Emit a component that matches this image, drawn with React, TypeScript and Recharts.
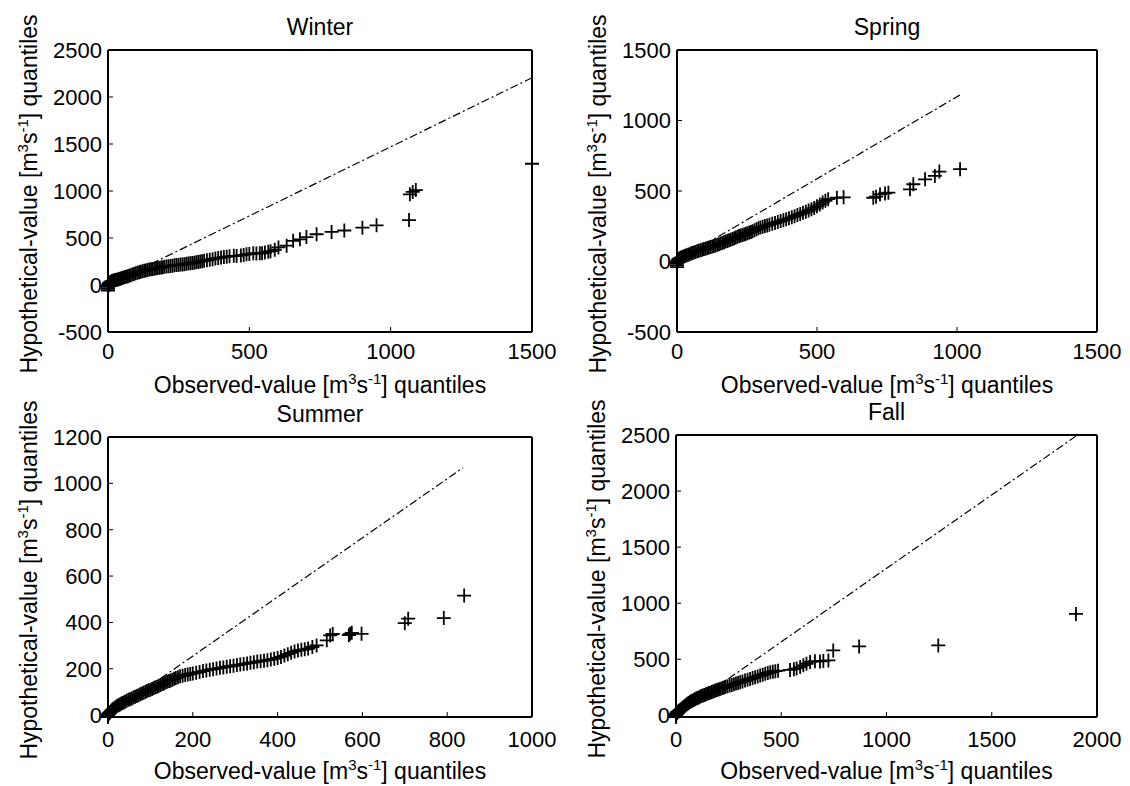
import React from 'react';
import { ScatterChart, Scatter, XAxis, YAxis, ReferenceLine } from 'recharts';

const FONT = '"Liberation Sans", Arial, Helvetica, sans-serif';

// Winter quantile pairs [observed, hypothetical]
const winterPoints = [
  [0, -60], [0, -40], [0, -20], [1, -8], [2, 0], [3, 8], [4, 14], [5, 19], [7, 26], [9, 31],
  [11, 35], [13, 39], [15, 42], [18, 46], [21, 49], [24, 51], [27, 53], [30, 55], [34, 58], [38, 62],
  [42, 66], [46, 70], [50, 74], [55, 79], [60, 84], [65, 89], [70, 94], [75, 99], [80, 104], [86, 111],
  [92, 118], [98, 125], [104, 131], [110, 136], [116, 141], [122, 146], [128, 151], [134, 155], [140, 160], [146, 164],
  [152, 168], [158, 171], [164, 174], [170, 177], [176, 180], [182, 183], [188, 187], [194, 190], [200, 194], [207, 198],
  [214, 200], [221, 203], [228, 206], [235, 209], [242, 212], [249, 214], [256, 217], [263, 219], [270, 222], [277, 225],
  [284, 228], [291, 231], [298, 235], [305, 238], [312, 242], [319, 245], [326, 249], [333, 253], [340, 257], [350, 263],
  [360, 269], [370, 275], [380, 282], [390, 287], [400, 292], [410, 297], [420, 301], [430, 305],
  [445, 310], [455, 309], [470, 315], [480, 320], [490, 326], [500, 330], [514, 337], [525, 335], [537, 337], [545, 338],
  [555, 345], [567, 355], [575, 360], [590, 375], [603, 400], [632, 418], [655, 470], [679, 486], [702, 510], [738, 540],
  [791, 565], [836, 580], [900, 610], [950, 635], [1065, 691], [1068, 965], [1078, 990], [1089, 1010], [1500, 1290],
];
const winterTicksX = [0, 500, 1000, 1500];
const winterTicksY = [-500, 0, 500, 1000, 1500, 2000, 2500];
const winterLine = [{ x: 0, y: 0 }, { x: 1500, y: 2205 }];

// Spring
const springPoints = [
  [0, -40], [0, -25], [0, -12], [1, -4], [2, 3], [3, 8], [5, 13], [7, 17], [9, 21], [12, 25],
  [15, 28], [18, 31], [22, 34], [26, 37], [30, 40], [35, 44], [40, 48], [45, 52], [50, 56], [55, 60],
  [60, 64], [66, 68], [72, 72], [78, 76], [84, 80], [90, 84], [96, 88], [102, 91], [108, 95], [114, 99],
  [120, 102], [126, 106], [132, 110], [138, 114], [144, 118], [150, 123], [156, 128], [162, 132], [168, 137], [174, 141],
  [180, 146], [186, 150], [192, 155], [198, 160], [204, 165], [210, 170], [216, 175], [222, 180], [228, 184], [234, 188],
  [240, 192], [246, 196], [252, 201], [258, 205], [264, 210], [270, 215], [277, 222], [284, 228], [291, 235], [298, 241],
  [306, 246], [314, 251], [322, 256], [330, 261], [340, 267], [350, 273], [360, 280], [370, 287], [380, 293], [390, 299],
  [400, 306], [410, 313], [420, 321], [430, 329], [440, 337], [450, 345], [460, 353], [470, 361], [480, 370], [490, 380],
  [500, 392], [510, 405], [520, 418], [530, 430], [540, 442],
  [571, 452], [595, 455], [701, 452], [711, 460], [725, 476], [743, 483], [755, 488], [832, 512], [844, 548], [886, 583],
  [921, 607], [937, 638], [1011, 655],
];
const springTicksX = [0, 500, 1000, 1500];
const springTicksY = [-500, 0, 500, 1000, 1500];
const springLine = [{ x: 0, y: 5 }, { x: 1010, y: 1180 }];

// Summer
const summerPoints = [
  [0, -8], [0, 0], [1, 4], [2, 7], [3, 10], [5, 13], [7, 17], [9, 21], [11, 25], [13, 28],
  [16, 32], [19, 36], [22, 40], [25, 43], [28, 46], [31, 49], [34, 52], [37, 55], [40, 58], [44, 62],
  [48, 66], [52, 69], [56, 72], [60, 76], [64, 79], [68, 83], [72, 86], [76, 90], [80, 93], [84, 97],
  [88, 100], [92, 104], [96, 107], [100, 110], [104, 113], [108, 117], [112, 120], [116, 123], [120, 127], [124, 130],
  [128, 134], [132, 137], [136, 141], [140, 144], [144, 147], [148, 150], [152, 153], [156, 157], [160, 160], [165, 164],
  [170, 168], [176, 170], [182, 173], [188, 175], [194, 178], [200, 180], [208, 183], [216, 186], [224, 190], [232, 193],
  [240, 196], [248, 198], [256, 201], [264, 204], [272, 206], [280, 209], [288, 211], [296, 213], [304, 216], [312, 218],
  [320, 221], [328, 223], [336, 226], [344, 228], [352, 231], [360, 233], [368, 235], [376, 237], [384, 240], [392, 243],
  [400, 247], [408, 251], [416, 257], [424, 263], [432, 269], [440, 275], [448, 279], [456, 282], [464, 284], [472, 287],
  [482, 294], [492, 301],
  [516, 323], [524, 344], [530, 350], [568, 345], [571, 351], [575, 355], [598, 351], [700, 397], [708, 416], [792, 419],
  [840, 516],
];
const summerTicksX = [0, 200, 400, 600, 800, 1000];
const summerTicksY = [0, 200, 400, 600, 800, 1000, 1200];
const summerLine = [{ x: 0, y: 0 }, { x: 837, y: 1067 }];

// Fall
const fallPoints = [
  [0, -15], [0, 0], [1, 8], [2, 14], [4, 20], [6, 25], [8, 30], [11, 34], [14, 39], [17, 44],
  [20, 48], [24, 54], [28, 61], [32, 67], [36, 73], [40, 80], [45, 87], [50, 96], [55, 103], [60, 110],
  [66, 118], [72, 125], [78, 131], [84, 137], [90, 143], [96, 149], [102, 155], [108, 160], [114, 166], [121, 172],
  [128, 177], [135, 182], [142, 188], [149, 193], [156, 198], [163, 202], [170, 207], [177, 212], [184, 218], [191, 223],
  [198, 228], [205, 232], [212, 237], [220, 243], [228, 249], [236, 254], [245, 260], [255, 265], [265, 271], [275, 277],
  [285, 283], [295, 289], [305, 295], [316, 302], [328, 310], [340, 318], [352, 325], [364, 332], [376, 339], [388, 347],
  [400, 355], [412, 362], [424, 370], [436, 378], [448, 384], [460, 389], [472, 394], [485, 398],
  [542, 405], [560, 410], [573, 418], [590, 430], [605, 446], [620, 460], [637, 476], [660, 482], [684, 481], [700, 485],
  [724, 490], [747, 579], [870, 614], [1246, 623], [1900, 904],
];
const fallTicksX = [0, 500, 1000, 1500, 2000];
const fallTicksY = [0, 500, 1000, 1500, 2000, 2500];
const fallLine = [{ x: 0, y: 0 }, { x: 1900, y: 2490 }];

const tickStyle = { fill: '#000', fontSize: 22, fontFamily: FONT };

const Plus = (props: any) => {
  const { cx, cy } = props;
  if (cx == null || cy == null) return null;
  return (
    <path
      d={`M${cx - 7},${cy}h14M${cx},${cy - 7}v14`}
      stroke="#000"
      strokeWidth={1.8}
      fill="none"
    />
  );
};

const unitsLabel = (
  <>
    [m<tspan dy={-9} fontSize={15}>3</tspan>
    <tspan dy={9}>s</tspan>
    <tspan dy={-9} fontSize={15}>-1</tspan>
    <tspan dy={9}>] quantiles</tspan>
  </>
);

interface PanelProps {
  title: string;
  box: { left: number; top: number; w: number; h: number };
  plot: { x0: number; y0: number; x1: number; y1: number };
  points: number[][];
  xTicks: number[];
  yTicks: number[];
  line: { x: number; y: number }[];
  tickMargin: number;
  xLabelGap: number;
}

function Panel({ title, box, plot, points, xTicks, yTicks, line, tickMargin, xLabelGap }: PanelProps) {
  const data = points.map(([x, y]) => ({ x, y }));
  const { left, top, w, h } = box;
  const { x0, y0, x1, y1 } = plot;
  const xDomain = [xTicks[0], xTicks[xTicks.length - 1]];
  const yDomain = [yTicks[0], yTicks[yTicks.length - 1]];
  // plot area in chart coordinates
  const px0 = x0 - left;
  const py0 = y0 - top;
  const px1 = x1 - left;
  const py1 = y1 - top;
  const ly = (py0 + py1) / 2 + 3;

  return (
    <div style={{ position: 'absolute', left, top, width: w, height: h }}>
      <ScatterChart
        width={w}
        height={h}
        margin={{ top: py0 - 1, right: w - px1 - 1, bottom: 0, left: 0 }}
      >
        <XAxis
          dataKey="x"
          type="number"
          domain={xDomain}
          ticks={xTicks}
          interval={0}
          height={h - py1}
          tickSize={-5}
          tickMargin={tickMargin}
          tick={tickStyle}
          axisLine={{ stroke: '#000', strokeWidth: 2 }}
          tickLine={{ stroke: '#000' }}
          label={() => (
            <text
              x={(px0 + px1) / 2}
              y={py1 + xLabelGap}
              textAnchor="middle"
              fontSize={23}
              fontFamily={FONT}
              fill="#000"
            >
              Observed-value {unitsLabel}
            </text>
          )}
        />
        <XAxis
          xAxisId="top"
          orientation="top"
          type="number"
          domain={xDomain}
          ticks={xTicks}
          interval={0}
          height={1}
          tickSize={-5}
          tickFormatter={() => ''}
          axisLine={{ stroke: '#000', strokeWidth: 2 }}
          tickLine={{ stroke: '#000' }}
          label={() => (
            <text
              x={(px0 + px1) / 2}
              y={py0 - 15}
              textAnchor="middle"
              fontSize={23}
              fontFamily={FONT}
              fill="#000"
            >
              {title}
            </text>
          )}
        />
        <YAxis
          dataKey="y"
          type="number"
          domain={yDomain}
          ticks={yTicks}
          interval={0}
          width={px0}
          tickSize={-5}
          tickMargin={11}
          tick={tickStyle}
          axisLine={{ stroke: '#000', strokeWidth: 2 }}
          tickLine={{ stroke: '#000' }}
          label={() => (
            <text
              x={px0 - 71}
              y={ly}
              transform={`rotate(-90, ${px0 - 71}, ${ly})`}
              textAnchor="middle"
              fontSize={23}
              fontFamily={FONT}
              fill="#000"
            >
              Hypothetical-value {unitsLabel}
            </text>
          )}
        />
        <YAxis
          yAxisId="right"
          orientation="right"
          type="number"
          domain={yDomain}
          ticks={yTicks}
          interval={0}
          width={1}
          tickSize={-5}
          tickFormatter={() => ''}
          axisLine={{ stroke: '#000', strokeWidth: 2 }}
          tickLine={{ stroke: '#000' }}
        />
        <ReferenceLine
          segment={line}
          stroke="#000"
          strokeWidth={1.2}
          strokeDasharray="8 3 2 3"
        />
        <Scatter data={data} shape={Plus} isAnimationActive={false} />
      </ScatterChart>
    </div>
  );
}

export default function App() {
  return (
    <div
      style={{
        position: 'absolute',
        left: 0,
        top: 0,
        width: 1130,
        height: 786,
        background: '#fff',
        overflow: 'hidden',
      }}
    >
      <Panel
        title="Winter"
        box={{ left: 0, top: 0, w: 565, h: 410 }}
        plot={{ x0: 108, y0: 50, x1: 532, y1: 332 }}
        points={winterPoints}
        xTicks={winterTicksX}
        yTicks={winterTicksY}
        line={winterLine}
        tickMargin={16}
        xLabelGap={61}
      />
      <Panel
        title="Spring"
        box={{ left: 560, top: 0, w: 570, h: 410 }}
        plot={{ x0: 677, y0: 50, x1: 1097, y1: 332 }}
        points={springPoints}
        xTicks={springTicksX}
        yTicks={springTicksY}
        line={springLine}
        tickMargin={16}
        xLabelGap={61}
      />
      <Panel
        title="Summer"
        box={{ left: 0, top: 395, w: 565, h: 391 }}
        plot={{ x0: 108, y0: 437, x1: 532, y1: 717 }}
        points={summerPoints}
        xTicks={summerTicksX}
        yTicks={summerTicksY}
        line={summerLine}
        tickMargin={19}
        xLabelGap={62}
      />
      <Panel
        title="Fall"
        box={{ left: 560, top: 395, w: 570, h: 391 }}
        plot={{ x0: 676, y0: 435, x1: 1097, y1: 717 }}
        points={fallPoints}
        xTicks={fallTicksX}
        yTicks={fallTicksY}
        line={fallLine}
        tickMargin={19}
        xLabelGap={62}
      />
    </div>
  );
}
